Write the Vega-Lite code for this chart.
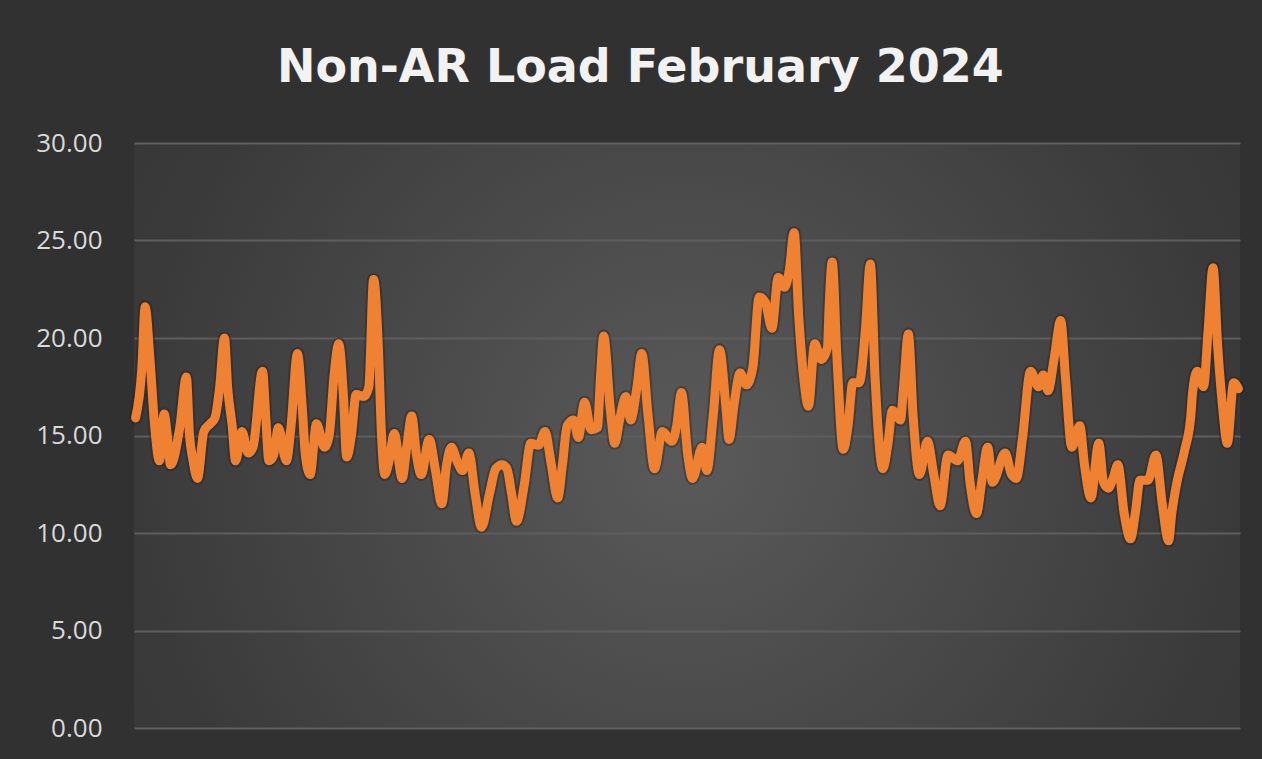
{
  "$schema": "https://vega.github.io/schema/vega-lite/v6.json",
  "width": 1262,
  "height": 759,
  "autosize": {"type": "fit", "contains": "padding"},
  "padding": {"left": 35, "top": 45, "right": 17, "bottom": 18},
  "background": "#313131",
  "title": {
    "text": "Non-AR Load February 2024",
    "font": "DejaVu Sans",
    "fontWeight": "bold",
    "fontSize": 46,
    "color": "#f2f2f2",
    "anchor": "middle",
    "frame": "bounds",
    "offset": 38
  },
  "config": {
    "view": {
      "stroke": null,
      "fill": {
        "gradient": "radial",
        "x1": 0.5, "y1": 0.52, "r1": 0,
        "x2": 0.5, "y2": 0.52, "r2": 0.72,
        "stops": [
          {"offset": 0, "color": "#5a5a5a"},
          {"offset": 0.7, "color": "#3a3a3a"},
          {"offset": 1, "color": "#333333"}
        ]
      }
    }
  },
  "data": {
    "values": [
      {"hour": 0, "load": 15.9}, {"hour": 4, "load": 18.5}, {"hour": 6, "load": 21.6}, {"hour": 9, "load": 19.0},
      {"hour": 12, "load": 15.5}, {"hour": 15, "load": 13.7}, {"hour": 18, "load": 16.1}, {"hour": 20, "load": 15.0},
      {"hour": 22, "load": 13.5}, {"hour": 28, "load": 15.5}, {"hour": 32, "load": 18.0}, {"hour": 34, "load": 15.0},
      {"hour": 36, "load": 13.8}, {"hour": 39, "load": 12.8}, {"hour": 43, "load": 15.2}, {"hour": 47, "load": 15.6},
      {"hour": 50, "load": 15.9}, {"hour": 53, "load": 17.5}, {"hour": 56, "load": 20.0}, {"hour": 58, "load": 17.5},
      {"hour": 61, "load": 15.4}, {"hour": 63, "load": 13.7}, {"hour": 67, "load": 15.2}, {"hour": 71, "load": 14.1},
      {"hour": 74, "load": 14.4}, {"hour": 80, "load": 18.3}, {"hour": 82, "load": 16.0}, {"hour": 84, "load": 13.7},
      {"hour": 87, "load": 14.0}, {"hour": 90, "load": 15.4}, {"hour": 95, "load": 13.7}, {"hour": 98, "load": 15.5},
      {"hour": 102, "load": 19.2}, {"hour": 105, "load": 16.5}, {"hour": 107, "load": 14.0}, {"hour": 110, "load": 13.0},
      {"hour": 114, "load": 15.6}, {"hour": 119, "load": 14.4}, {"hour": 122, "load": 15.0}, {"hour": 125, "load": 18.0},
      {"hour": 128, "load": 19.7}, {"hour": 131, "load": 17.0}, {"hour": 133, "load": 13.9}, {"hour": 136, "load": 15.0},
      {"hour": 139, "load": 17.1}, {"hour": 144, "load": 17.0}, {"hour": 147, "load": 17.5}, {"hour": 150, "load": 23.0},
      {"hour": 153, "load": 19.5}, {"hour": 155, "load": 15.0}, {"hour": 157, "load": 13.0}, {"hour": 160, "load": 13.8},
      {"hour": 163, "load": 15.1}, {"hour": 168, "load": 12.8}, {"hour": 171, "load": 14.5}, {"hour": 174, "load": 16.0},
      {"hour": 177, "load": 14.0}, {"hour": 180, "load": 13.0}, {"hour": 185, "load": 14.8}, {"hour": 189, "load": 13.2},
      {"hour": 193, "load": 11.5}, {"hour": 196, "load": 13.5}, {"hour": 199, "load": 14.4}, {"hour": 203, "load": 13.6},
      {"hour": 206, "load": 13.2}, {"hour": 210, "load": 14.1}, {"hour": 214, "load": 12.0}, {"hour": 218, "load": 10.3},
      {"hour": 223, "load": 12.0}, {"hour": 227, "load": 13.3}, {"hour": 231, "load": 13.5}, {"hour": 234, "load": 13.3},
      {"hour": 237, "load": 12.0}, {"hour": 240, "load": 10.6}, {"hour": 245, "load": 12.5}, {"hour": 249, "load": 14.6},
      {"hour": 254, "load": 14.5}, {"hour": 258, "load": 15.2}, {"hour": 262, "load": 13.5}, {"hour": 266, "load": 11.8},
      {"hour": 269, "load": 13.5}, {"hour": 272, "load": 15.5}, {"hour": 276, "load": 15.8}, {"hour": 279, "load": 14.9},
      {"hour": 283, "load": 16.7}, {"hour": 287, "load": 15.3}, {"hour": 291, "load": 15.4}, {"hour": 293, "load": 18.0},
      {"hour": 295, "load": 20.1}, {"hour": 299, "load": 16.5}, {"hour": 302, "load": 14.6}, {"hour": 305, "load": 15.8},
      {"hour": 309, "load": 17.0}, {"hour": 312, "load": 15.8}, {"hour": 316, "load": 17.5}, {"hour": 319, "load": 19.2},
      {"hour": 323, "load": 16.0}, {"hour": 327, "load": 13.3}, {"hour": 332, "load": 15.2}, {"hour": 338, "load": 14.7},
      {"hour": 341, "load": 15.5}, {"hour": 344, "load": 17.2}, {"hour": 348, "load": 14.0}, {"hour": 351, "load": 12.8},
      {"hour": 357, "load": 14.4}, {"hour": 360, "load": 13.2}, {"hour": 364, "load": 16.0}, {"hour": 368, "load": 19.4},
      {"hour": 372, "load": 16.5}, {"hour": 374, "load": 14.8}, {"hour": 377, "load": 16.5}, {"hour": 381, "load": 18.2},
      {"hour": 385, "load": 17.6}, {"hour": 389, "load": 18.5}, {"hour": 393, "load": 22.1}, {"hour": 397, "load": 21.8},
      {"hour": 401, "load": 20.5}, {"hour": 405, "load": 23.1}, {"hour": 409, "load": 22.6}, {"hour": 412, "load": 23.5},
      {"hour": 415, "load": 25.4}, {"hour": 418, "load": 21.0}, {"hour": 421, "load": 18.0}, {"hour": 424, "load": 16.5},
      {"hour": 428, "load": 19.7}, {"hour": 432, "load": 18.9}, {"hour": 436, "load": 19.5}, {"hour": 437, "load": 21.5},
      {"hour": 439, "load": 23.9}, {"hour": 442, "load": 19.0}, {"hour": 446, "load": 14.3}, {"hour": 449, "load": 15.5},
      {"hour": 452, "load": 17.7}, {"hour": 456, "load": 17.7}, {"hour": 460, "load": 20.5}, {"hour": 463, "load": 23.8},
      {"hour": 466, "load": 18.0}, {"hour": 471, "load": 13.3}, {"hour": 474, "load": 14.5}, {"hour": 477, "load": 16.3},
      {"hour": 482, "load": 15.8}, {"hour": 484, "load": 17.5}, {"hour": 487, "load": 20.2}, {"hour": 490, "load": 16.0},
      {"hour": 494, "load": 13.0}, {"hour": 499, "load": 14.7}, {"hour": 503, "load": 13.0}, {"hour": 507, "load": 11.4},
      {"hour": 512, "load": 14.0}, {"hour": 518, "load": 13.7}, {"hour": 523, "load": 14.7}, {"hour": 526, "load": 12.5},
      {"hour": 530, "load": 11.0}, {"hour": 533, "load": 12.5}, {"hour": 537, "load": 14.4}, {"hour": 540, "load": 12.6},
      {"hour": 548, "load": 14.1}, {"hour": 552, "load": 13.0}, {"hour": 555, "load": 12.8}, {"hour": 559, "load": 14.9},
      {"hour": 564, "load": 18.3}, {"hour": 569, "load": 17.5}, {"hour": 572, "load": 18.1}, {"hour": 575, "load": 17.3},
      {"hour": 579, "load": 19.0}, {"hour": 583, "load": 20.9}, {"hour": 586, "load": 18.0}, {"hour": 590, "load": 14.4},
      {"hour": 595, "load": 15.5}, {"hour": 598, "load": 13.5}, {"hour": 602, "load": 11.8}, {"hour": 607, "load": 14.6},
      {"hour": 610, "load": 12.6}, {"hour": 613, "load": 12.3}, {"hour": 616, "load": 12.8}, {"hour": 619, "load": 13.5},
      {"hour": 623, "load": 11.0}, {"hour": 627, "load": 9.7}, {"hour": 630, "load": 11.0}, {"hour": 633, "load": 12.7},
      {"hour": 638, "load": 12.7}, {"hour": 643, "load": 14.0}, {"hour": 647, "load": 11.5}, {"hour": 651, "load": 9.6},
      {"hour": 653, "load": 11.0}, {"hour": 656, "load": 12.5}, {"hour": 661, "load": 14.2}, {"hour": 665, "load": 16.0},
      {"hour": 666, "load": 17.1}, {"hour": 669, "load": 18.3}, {"hour": 673, "load": 17.5}, {"hour": 676, "load": 20.5},
      {"hour": 679, "load": 23.6}, {"hour": 682, "load": 19.5}, {"hour": 685, "load": 16.5}, {"hour": 688, "load": 14.6},
      {"hour": 692, "load": 17.7}, {"hour": 695, "load": 17.4}
    ]
  },
  "encoding": {
    "x": {"field": "hour", "type": "quantitative", "scale": {"domain": [-1, 696], "nice": false, "zero": false}, "axis": null},
    "y": {
      "field": "load",
      "type": "quantitative",
      "scale": {"domain": [0, 30], "nice": false},
      "axis": {
        "title": null,
        "values": [0, 5, 10, 15, 20, 25, 30],
        "format": ".2f",
        "domain": false,
        "ticks": false,
        "labelFont": "Open Sans",
        "labelFontSize": 26,
        "labelColor": "#d9d9d9",
        "labelPadding": 32,
        "gridColor": "#5e5e5e",
        "gridWidth": 2
      }
    }
  },
  "layer": [
    {"mark": {"type": "line", "interpolate": "monotone", "stroke": "#1c1c1c", "strokeOpacity": 0.35, "strokeWidth": 13, "strokeJoin": "round", "strokeCap": "round"}},
    {"mark": {"type": "line", "interpolate": "monotone", "stroke": "#EF8232", "strokeWidth": 9, "strokeJoin": "round", "strokeCap": "round"}}
  ]
}
